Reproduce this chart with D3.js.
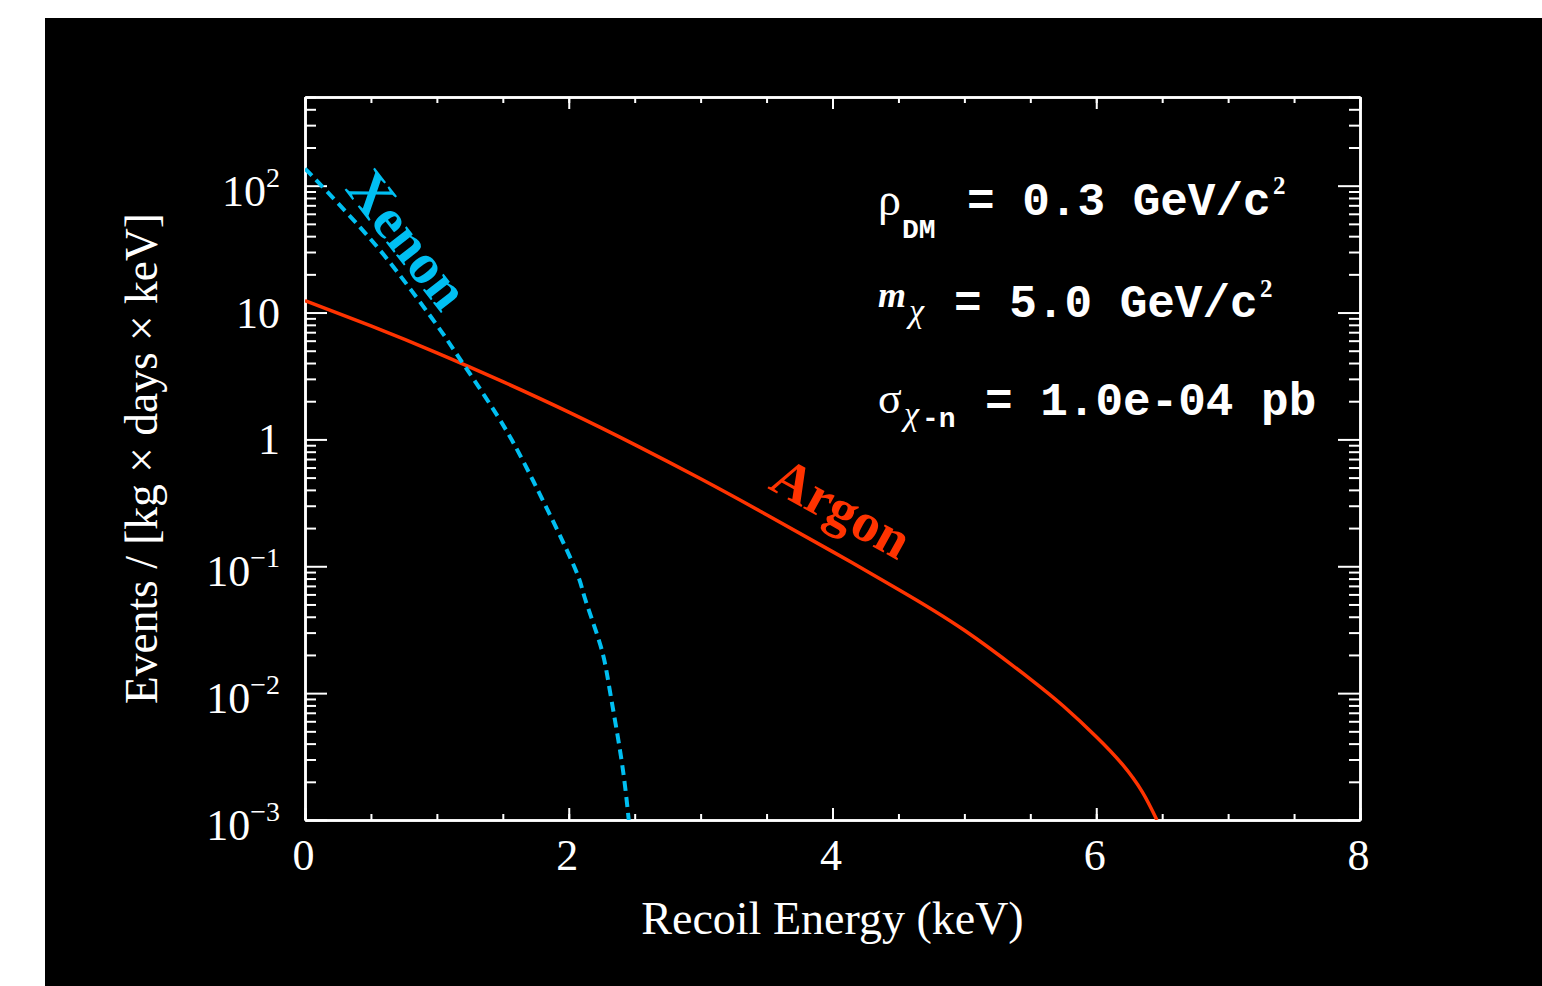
<!DOCTYPE html>
<meta charset="utf-8">
<script src="https://d3js.org/d3.v7.min.js"></script>
<style>
  body { margin: 0; background: #fff; }
</style>
<div id="chart"></div>
<script>
  // recoil energy (keV) and event rate
  const argonE    = [0, 0.5, 1.0, 1.5, 2.0, 2.5, 3.0, 3.5, 4.0, 4.5, 5.0, 5.5, 5.75, 6.0, 6.2, 6.35, 6.46];
  const argonRate = [12.4, 7.84, 4.81, 2.85, 1.64, 0.910, 0.489, 0.255, 0.1305, 0.0657, 0.0313, 0.0129, 0.00791, 0.00454, 0.00273, 0.00166, 0.001];
  const xenonE    = [0, 0.11, 0.42, 0.70, 1.0, 1.15, 1.46, 1.73, 2.03, 2.12, 2.24, 2.31, 2.40, 2.455];
  const xenonRate = [136, 104, 46.7, 20.9, 7.96, 4.70, 1.53, 0.472, 0.106, 0.057, 0.0239, 0.0107, 0.00297, 0.001];

  const xMajor = [0, 2, 4, 6, 8];
  const yMajor = [1e-3, 1e-2, 1e-1, 1, 10, 100];
  const yBase  = ["10", "10", "10", "1", "10", "10"];
  const ySup   = ["\u22123", "\u22122", "\u22121", "", "", "2"];

  const paramMain = ["= 0.3 GeV/c", "= 5.0 GeV/c", "= 1.0e-04 pb"];

  const width = 1542, height = 986;
  const plotL = 305, plotR = 1360, plotT = 97, plotB = 820;

  const svg = d3.select("#chart").append("svg")
    .attr("width", width).attr("height", height);

  svg.append("rect").attr("width", width).attr("height", height).attr("fill", "#fff");
  svg.append("rect").attr("x", 45).attr("y", 18)
    .attr("width", width - 45).attr("height", height - 18).attr("fill", "#000");

  const x = d3.scaleLinear().domain([0, 8]).range([plotL, plotR]);
  const y = d3.scaleLog().domain([1e-3, 500]).range([plotB, plotT]);

  const xMinor = d3.range(0, 8.001, 0.5);
  const yMinor = [];
  for (let p = -3; p <= 2; p++) {
    for (let k = 2; k <= 9; k++) {
      const v = k * Math.pow(10, p);
      if (v <= 500) yMinor.push(v);
    }
  }

  function styleAxis(g) {
    g.select(".domain").attr("stroke", "#fff").attr("stroke-width", 2.5);
    g.selectAll(".tick line").attr("stroke", "#fff").attr("stroke-width", 2);
    g.selectAll(".tick text").remove();
  }

  // ticks point inward on all four sides
  svg.append("g").attr("transform", `translate(0,${plotB})`)
    .call(d3.axisBottom(x).tickValues(xMinor).tickSize(-6).tickSizeOuter(0)).call(styleAxis);
  svg.append("g").attr("transform", `translate(0,${plotB})`)
    .call(d3.axisBottom(x).tickValues(xMajor).tickSize(-12).tickSizeOuter(0)).call(styleAxis);
  svg.append("g").attr("transform", `translate(0,${plotT})`)
    .call(d3.axisTop(x).tickValues(xMinor).tickSize(-6).tickSizeOuter(0)).call(styleAxis);
  svg.append("g").attr("transform", `translate(0,${plotT})`)
    .call(d3.axisTop(x).tickValues(xMajor).tickSize(-12).tickSizeOuter(0)).call(styleAxis);

  svg.append("g").attr("transform", `translate(${plotL},0)`)
    .call(d3.axisLeft(y).tickValues(yMinor).tickSize(-11).tickSizeOuter(0)).call(styleAxis);
  svg.append("g").attr("transform", `translate(${plotL},0)`)
    .call(d3.axisLeft(y).tickValues(yMajor).tickSize(-22).tickSizeOuter(0)).call(styleAxis);
  svg.append("g").attr("transform", `translate(${plotR},0)`)
    .call(d3.axisRight(y).tickValues(yMinor).tickSize(-11).tickSizeOuter(0)).call(styleAxis);
  svg.append("g").attr("transform", `translate(${plotR},0)`)
    .call(d3.axisRight(y).tickValues(yMajor).tickSize(-22).tickSizeOuter(0)).call(styleAxis);

  const serif = "'Liberation Serif', 'Times New Roman', serif";
  const mono = "'Liberation Mono', 'Courier New', monospace";

  // x tick labels
  svg.append("g").selectAll("text").data(xMajor).join("text")
    .attr("x", d => x(d) - 1.5).attr("y", 870)
    .attr("text-anchor", "middle")
    .attr("font-family", serif).attr("font-size", 44).attr("fill", "#fff")
    .text(d => d);

  // y tick labels with superscript exponents
  const yl = svg.append("g").selectAll("text").data(yMajor).join("text")
    .attr("x", 280)
    .attr("y", (d, i) => y(d) + (ySup[i] ? 20 : 15))
    .attr("text-anchor", "end")
    .attr("font-family", serif).attr("font-size", 44).attr("fill", "#fff");
  yl.append("tspan").text((d, i) => yBase[i]);
  yl.append("tspan").attr("dy", -19).attr("font-size", 28)
    .text((d, i) => ySup[i]);

  // axis titles
  svg.append("text")
    .attr("x", (plotL + plotR) / 2).attr("y", 934)
    .attr("text-anchor", "middle")
    .attr("font-family", serif).attr("font-size", 46).attr("fill", "#fff")
    .text("Recoil Energy (keV)");
  svg.append("text")
    .attr("transform", `translate(157,${(plotT + plotB) / 2}) rotate(-90)`)
    .attr("text-anchor", "middle")
    .attr("font-family", serif).attr("font-size", 45.5).attr("fill", "#fff")
    .text("Events / [kg \u00d7 days \u00d7 keV]");

  // curves
  svg.append("clipPath").attr("id", "plot-clip")
    .append("rect").attr("x", plotL).attr("y", plotT)
    .attr("width", plotR - plotL).attr("height", plotB - plotT);

  const line = d3.line()
    .x(d => x(d[0]))
    .y(d => y(d[1]))
    .curve(d3.curveNatural);

  svg.append("path")
    .datum(d3.zip(argonE, argonRate))
    .attr("clip-path", "url(#plot-clip)")
    .attr("fill", "none").attr("stroke", "#ff3300").attr("stroke-width", 3.5)
    .attr("d", line);

  svg.append("path")
    .datum(d3.zip(xenonE, xenonRate))
    .attr("clip-path", "url(#plot-clip)")
    .attr("fill", "none").attr("stroke", "#00bff2").attr("stroke-width", 4)
    .attr("stroke-dasharray", "10,6")
    .attr("d", line);

  // curve labels
  svg.append("text")
    .attr("transform", "translate(344,189) rotate(52)")
    .attr("font-family", serif).attr("font-weight", "bold").attr("font-size", 57)
    .attr("fill", "#00bff2")
    .text("Xenon");
  svg.append("text")
    .attr("transform", "translate(767,488) rotate(29)")
    .attr("font-family", serif).attr("font-weight", "bold").attr("font-size", 55)
    .attr("fill", "#ff3300")
    .text("Argon");

  // parameter box
  const p = svg.append("g").attr("fill", "#fff");
  // rho_DM
  p.append("text").attr("x", 878).attr("y", 215)
    .attr("font-family", serif).attr("font-size", 46).text("\u03c1");
  p.append("text").attr("x", 902).attr("y", 238)
    .attr("font-family", mono).attr("font-weight", "bold").attr("font-size", 28).text("DM");
  p.append("text").attr("x", 967).attr("y", 215)
    .attr("font-family", mono).attr("font-weight", "bold").attr("font-size", 46).text(paramMain[0]);
  p.append("text").attr("x", 1273).attr("y", 194)
    .attr("font-family", serif).attr("font-weight", "bold").attr("font-size", 25).text("2");
  // m_chi
  p.append("text").attr("x", 878).attr("y", 307)
    .attr("font-family", serif).attr("font-weight", "bold").attr("font-style", "italic")
    .attr("font-size", 36).text("m");
  p.append("text").attr("x", 909).attr("y", 322)
    .attr("font-family", serif).attr("font-style", "italic").attr("font-size", 34).text("\u03c7");
  p.append("text").attr("x", 954).attr("y", 317)
    .attr("font-family", mono).attr("font-weight", "bold").attr("font-size", 46).text(paramMain[1]);
  p.append("text").attr("x", 1260).attr("y", 297)
    .attr("font-family", serif).attr("font-weight", "bold").attr("font-size", 25).text("2");
  // sigma_chi-n
  p.append("text").attr("x", 878).attr("y", 413)
    .attr("font-family", serif).attr("font-size", 44).text("\u03c3");
  p.append("text").attr("x", 904).attr("y", 425)
    .attr("font-family", serif).attr("font-style", "italic").attr("font-size", 34).text("\u03c7");
  p.append("text").attr("x", 922).attr("y", 427)
    .attr("font-family", mono).attr("font-weight", "bold").attr("font-size", 28).text("-n");
  p.append("text").attr("x", 985).attr("y", 415)
    .attr("font-family", mono).attr("font-weight", "bold").attr("font-size", 46).text(paramMain[2]);
</script>
